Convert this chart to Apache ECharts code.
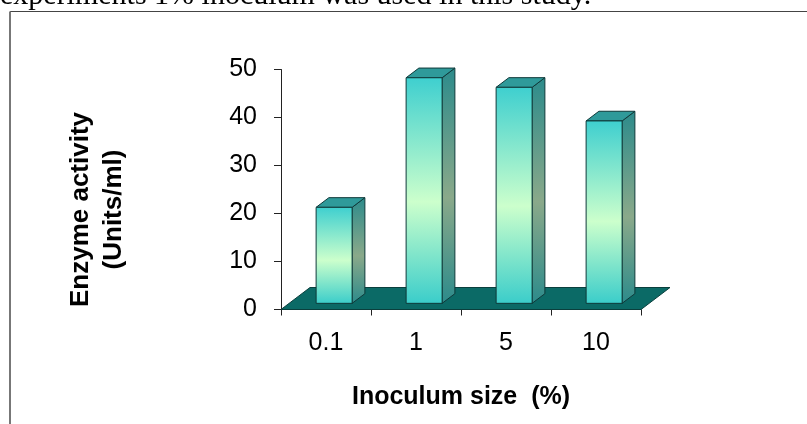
<!DOCTYPE html>
<html><head><meta charset="utf-8">
<script src="https://cdn.jsdelivr.net/npm/echarts@6/dist/echarts.min.js"></script>
<style>html,body{margin:0;padding:0;background:#fff}#c{width:807px;height:424px}</style>
</head><body><div id="c"></div>
<script>
// ---- data ----
const categories = ['0.1', '1', '5', '10'];
const activity = [20, 47, 45, 38];
const yMin = 0, yMax = 50, yStep = 10;
const xTitle = 'Inoculum size  (%)';
const yTitle = 'Enzyme activity\n(Units/ml)';
const caption = 'experiments 1% inoculum was used in this study.';

// ---- style ----
const DEPTH = [29, -22];
const FRONT = 0.28, BACK = 0.72, BARW = 0.4;
const EDGE = '#0f3a3a';
function grad(stops) {
  return { type: 'linear', x: 0, y: 0, x2: 0, y2: 1, global: false,
    colorStops: stops.map(s => ({ offset: s[0], color: s[1] })) };
}
const frontFill = () => grad([[0, '#3ecfcf'], [0.55, '#ccffcc'], [1, '#3acdca']]);
const sideFill = () => grad([[0, '#2c8b8b'], [0.55, '#8aa98a'], [1, '#2c8b8b']]);
const topFill = '#2f9a9a';
const FONT = 'Liberation Sans, Arial, sans-serif';

const chart = echarts.init(document.getElementById('c'), null, { renderer: 'canvas' });

const option = {
  animation: false,
  backgroundColor: '#fff',
  grid: { left: 281, top: 69.5, width: 360, height: 240, containLabel: false },
  xAxis: {
    type: 'category',
    data: categories,
    boundaryGap: true,
    axisLine: { show: true, lineStyle: { color: '#222', width: 1 } },
    axisTick: { show: true, alignWithLabel: false, length: 6, lineStyle: { color: '#222' } },
    axisLabel: { fontSize: 25, color: '#000', fontFamily: FONT, margin: 21 },
    splitLine: { show: false },
    name: xTitle,
    nameLocation: 'middle',
    nameGap: 75,
    nameTextStyle: { fontSize: 25, fontWeight: 'bold', color: '#000', fontFamily: FONT }
  },
  yAxis: {
    type: 'value',
    min: yMin, max: yMax, interval: yStep,
    axisLine: { show: true, lineStyle: { color: '#222', width: 1 } },
    axisTick: { show: true, length: 7, lineStyle: { color: '#222' } },
    axisLabel: { fontSize: 25, color: '#000', fontFamily: FONT, margin: 24 },
    splitLine: { show: false },
    name: yTitle,
    nameLocation: 'middle',
    nameRotate: 90,
    nameGap: 151,
    nameTextStyle: { fontSize: 26, fontWeight: 'bold', color: '#000', fontFamily: FONT,
      lineHeight: 33, padding: [0, 40, 0, 0] }
  },
  graphic: [
    { type: 'line', silent: true, shape: { x1: 10, y1: 11.5, x2: 807, y2: 11.5 },
      style: { stroke: '#444', lineWidth: 1.2 } },
    { type: 'line', silent: true, shape: { x1: 10, y1: 11.5, x2: 10, y2: 424 },
      style: { stroke: '#777', lineWidth: 2 } },
    { type: 'text', silent: true, x: 0, y: -4,
      style: { text: caption, fontSize: 30, fontFamily: 'Liberation Serif, Times New Roman, serif',
        fill: '#000', verticalAlign: 'middle', align: 'left' } }
  ],
  series: [
    {
      type: 'custom',
      name: 'floor',
      silent: true,
      z: 1,
      data: [[0, 0]],
      renderItem: function (params, api) {
        const cs = params.coordSys;
        const yb = api.coord([0, 0])[1];
        const xl = cs.x, xr = cs.x + cs.width;
        return {
          type: 'polygon',
          shape: { points: [[xl, yb], [xr, yb], [xr + DEPTH[0], yb + DEPTH[1]], [xl + DEPTH[0], yb + DEPTH[1]]] },
          style: { fill: '#0b6a66', stroke: '#0a3f3d', lineWidth: 1 }
        };
      }
    },
    {
      type: 'custom',
      name: 'Enzyme activity',
      silent: true,
      z: 2,
      data: categories.map((c, i) => [i, activity[i]]),
      renderItem: function (params, api) {
        const c = api.value(0), v = api.value(1);
        const base = api.coord([c, 0]);
        const top = api.coord([c, v]);
        const bw = api.size([1, 0])[0] * BARW;
        const fx = DEPTH[0] * FRONT, fy = DEPTH[1] * FRONT;
        const dx = DEPTH[0] * (BACK - FRONT), dy = DEPTH[1] * (BACK - FRONT);
        const x0 = base[0] - bw / 2 + fx, x1 = x0 + bw;
        const yb = base[1] + fy, yt = top[1] + fy;
        return {
          type: 'group',
          children: [
            { type: 'polygon', shape: { points: [[x1, yt], [x1 + dx, yt + dy], [x1 + dx, yb + dy], [x1, yb]] },
              style: { fill: sideFill(), stroke: EDGE, lineWidth: 1 } },
            { type: 'polygon', shape: { points: [[x0, yt], [x1, yt], [x1 + dx, yt + dy], [x0 + dx, yt + dy]] },
              style: { fill: topFill, stroke: EDGE, lineWidth: 1 } },
            { type: 'rect', shape: { x: x0, y: yt, width: bw, height: yb - yt },
              style: { fill: frontFill(), stroke: EDGE, lineWidth: 1 } }
          ]
        };
      }
    }
  ]
};
chart.setOption(option);
</script>
</body></html>
